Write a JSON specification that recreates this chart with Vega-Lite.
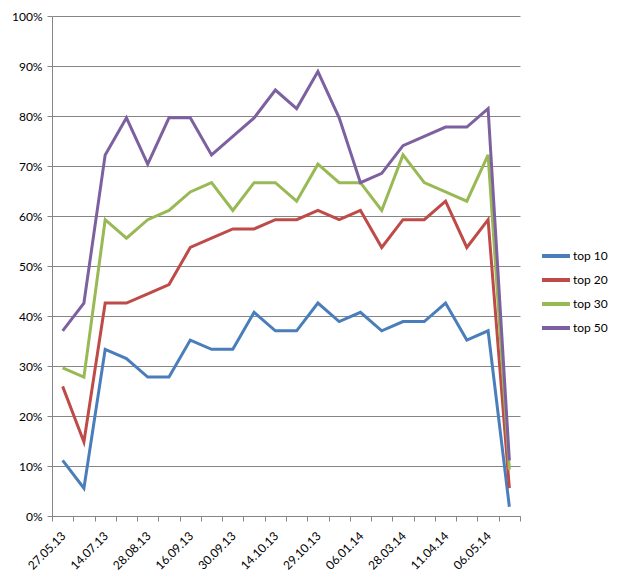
{
  "$schema": "https://vega.github.io/schema/vega-lite/v6.json",
  "autosize": "none",
  "width": 468,
  "height": 500,
  "padding": {"left": 52, "top": 16, "right": 97, "bottom": 66},
  "background": "white",
  "config": {
    "view": {"stroke": null},
    "font": "Lato",
    "axis": {"labelFont": "Lato", "labelFontSize": 12, "labelColor": "#000000", "domainColor": "#868686", "tickColor": "#868686", "gridColor": "#868686", "tickSize": 5}
  },
  "datasets": {
    "raw": [
      {"i": 0, "date": "27.05.13", "t10": 0.1111, "t20": 0.2593, "t30": 0.2963, "t50": 0.3704},
      {"i": 1, "date": "17.06.13", "t10": 0.0556, "t20": 0.1481, "t30": 0.2778, "t50": 0.4259},
      {"i": 2, "date": "14.07.13", "t10": 0.3333, "t20": 0.4259, "t30": 0.5926, "t50": 0.7222},
      {"i": 3, "date": "05.08.13", "t10": 0.3148, "t20": 0.4259, "t30": 0.5556, "t50": 0.7963},
      {"i": 4, "date": "28.08.13", "t10": 0.2778, "t20": 0.4444, "t30": 0.5926, "t50": 0.7037},
      {"i": 5, "date": "06.09.13", "t10": 0.2778, "t20": 0.4630, "t30": 0.6111, "t50": 0.7963},
      {"i": 6, "date": "16.09.13", "t10": 0.3519, "t20": 0.5370, "t30": 0.6481, "t50": 0.7963},
      {"i": 7, "date": "23.09.13", "t10": 0.3333, "t20": 0.5556, "t30": 0.6667, "t50": 0.7222},
      {"i": 8, "date": "30.09.13", "t10": 0.3333, "t20": 0.5741, "t30": 0.6111, "t50": 0.7593},
      {"i": 9, "date": "07.10.13", "t10": 0.4074, "t20": 0.5741, "t30": 0.6667, "t50": 0.7963},
      {"i": 10, "date": "14.10.13", "t10": 0.3704, "t20": 0.5926, "t30": 0.6667, "t50": 0.8519},
      {"i": 11, "date": "21.10.13", "t10": 0.3704, "t20": 0.5926, "t30": 0.6296, "t50": 0.8148},
      {"i": 12, "date": "29.10.13", "t10": 0.4259, "t20": 0.6111, "t30": 0.7037, "t50": 0.8889},
      {"i": 13, "date": "02.12.13", "t10": 0.3889, "t20": 0.5926, "t30": 0.6667, "t50": 0.7963},
      {"i": 14, "date": "06.01.14", "t10": 0.4074, "t20": 0.6111, "t30": 0.6667, "t50": 0.6667},
      {"i": 15, "date": "14.03.14", "t10": 0.3704, "t20": 0.5370, "t30": 0.6111, "t50": 0.6852},
      {"i": 16, "date": "28.03.14", "t10": 0.3889, "t20": 0.5926, "t30": 0.7222, "t50": 0.7407},
      {"i": 17, "date": "04.04.14", "t10": 0.3889, "t20": 0.5926, "t30": 0.6667, "t50": 0.7593},
      {"i": 18, "date": "11.04.14", "t10": 0.4259, "t20": 0.6296, "t30": 0.6481, "t50": 0.7778},
      {"i": 19, "date": "22.04.14", "t10": 0.3519, "t20": 0.5370, "t30": 0.6296, "t50": 0.7778},
      {"i": 20, "date": "06.05.14", "t10": 0.3704, "t20": 0.5926, "t30": 0.7222, "t50": 0.8148},
      {"i": 21, "date": "20.05.14", "t10": 0.0185, "t20": 0.0556, "t30": 0.0926, "t50": 0.1111}
    ]
  },
  "data": {"name": "raw"},
  "transform": [
    {"fold": ["t10", "t20", "t30", "t50"], "as": ["key", "value"]},
    {"calculate": "datum.key == 't10' ? 'top 10' : datum.key == 't20' ? 'top 20' : datum.key == 't30' ? 'top 30' : 'top 50'", "as": "series"}
  ],
  "mark": {"type": "line", "strokeWidth": 3, "strokeJoin": "miter"},
  "encoding": {
    "x": {
      "field": "date",
      "type": "ordinal",
      "sort": {"field": "i"},
      "scale": {"paddingInner": 0, "paddingOuter": 0},
      "axis": {
        "title": null,
        "tickBand": "extent",
        "labelAngle": -45,
        "labelAlign": "right",
        "labelBaseline": "top",
        "labelOffset": -3,
        "labelPadding": 9,
        "labelOverlap": false,
        "labelExpr": "indexof(['27.05.13','14.07.13','28.08.13','16.09.13','30.09.13','14.10.13','29.10.13','06.01.14','28.03.14','11.04.14','06.05.14'], datum.value) >= 0 ? datum.value : ''",
        "grid": false
      }
    },
    "y": {
      "field": "value",
      "type": "quantitative",
      "scale": {"domain": [0, 1], "nice": false},
      "axis": {"title": null, "values": [0, 0.1, 0.2, 0.3, 0.4, 0.5, 0.6, 0.7, 0.8, 0.9, 1], "format": ".0%", "grid": true, "labelPadding": 5}
    },
    "color": {
      "field": "series",
      "type": "nominal",
      "scale": {"domain": ["top 10", "top 20", "top 30", "top 50"], "range": ["#4A7EBB", "#BE4B48", "#98B954", "#7D60A0"]},
      "legend": {
        "title": null,
        "orient": "none",
        "legendX": 488,
        "legendY": 224,
        "symbolType": "stroke",
        "symbolStrokeWidth": 4,
        "symbolSize": 784,
        "labelFontSize": 12,
        "labelFont": "Lato",
        "labelColor": "#000000",
        "labelOffset": 1,
        "rowPadding": -3
      }
    }
  }
}
